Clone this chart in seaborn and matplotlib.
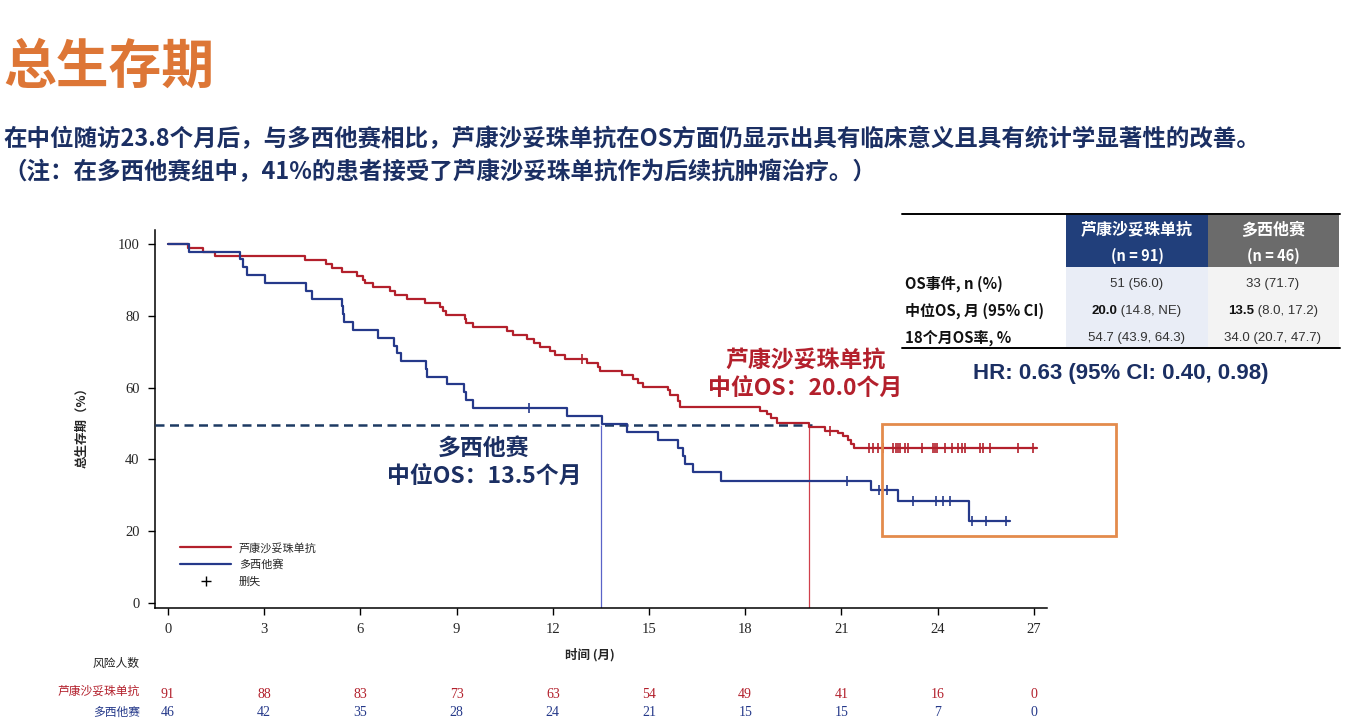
import numpy as np
import pandas as pd
import matplotlib
matplotlib.use('Agg')
import matplotlib.pyplot as plt
import seaborn as sns
from matplotlib.lines import Line2D
from matplotlib.patches import Rectangle
from matplotlib.transforms import blended_transform_factory

# Kaplan-Meier steps (months, % surviving)
red_time = [0, 0.63, 1.1, 1.47, 4.27, 4.92, 5.1, 5.42, 5.88, 6.09, 6.15, 6.4, 6.92, 7.08, 7.44,
            8.01, 8.48, 8.58, 8.67, 9.26, 9.3, 9.5, 10.57, 10.77, 11.2, 11.4, 11.6, 11.9, 12.07,
            12.38, 12.64, 13.06, 13.4, 13.47, 14.16, 14.5, 14.66, 14.8, 15.6, 15.65, 15.9, 15.96,
            18.46, 18.67, 18.8, 18.98, 20.0, 20.5, 20.9, 21.05, 21.2, 21.3, 21.4, 27.1]
red_surv = [100, 98.9, 97.8, 96.7, 95.6, 94.5, 93.4, 92.3, 91.2, 90.1, 89.0, 87.9, 86.8, 85.7, 84.6,
            83.5, 82.4, 81.3, 80.2, 79.1, 78.0, 76.9, 75.8, 74.7, 73.6, 72.5, 71.4, 70.3, 69.2,
            68.1, 67.9, 66.8, 65.7, 64.7, 63.6, 62.5, 61.4, 60.3, 59.2, 57.9, 56.3, 54.7,
            53.6, 52.6, 51.5, 50.2, 49.1, 48.0, 47.4, 46.5, 45.5, 44.4, 43.3, 43.3]
red_cens = [12.9, 20.63, 21.87, 21.99, 22.15, 22.29, 22.62, 22.70, 22.77, 22.83, 22.98, 23.08,
            23.50, 23.86, 23.92, 23.99, 24.23, 24.44, 24.64, 24.75, 24.85, 25.32, 25.42, 25.63,
            26.51, 26.98]

blue_time = [0, 0.64, 2.25, 2.35, 2.47, 3.02, 4.29, 4.48, 5.42, 5.45, 5.5, 5.78, 6.56, 7.05, 7.15,
             7.26, 8.03, 8.09, 8.71, 9.23, 9.29, 9.52, 12.43, 13.54, 14.3, 15.29, 15.91, 16.05,
             16.12, 16.38, 17.24, 21.91, 22.77, 24.99, 26.26]
blue_surv = [100, 97.8, 95.7, 93.5, 91.3, 89.1, 87.0, 84.8, 82.6, 80.4, 78.3, 76.1, 73.9, 71.7, 69.6,
             67.4, 65.2, 63.0, 60.9, 58.7, 56.5, 54.3, 52.0, 49.8, 47.6, 45.4, 43.1, 40.9,
             38.7, 36.4, 34.0, 31.6, 28.4, 22.8, 22.8]
blue_cens = [11.26, 21.16, 22.17, 22.43, 23.24, 23.95, 24.16, 24.38, 25.06, 25.5, 26.12]

median_red = 20.0
median_blue = 13.5
half_line = 49.6

risk_ticks = [0, 3, 6, 9, 12, 15, 18, 21, 24, 27]
risk_red = [91, 88, 83, 73, 63, 54, 49, 41, 16, 0]
risk_blue = [46, 42, 35, 28, 24, 21, 15, 15, 7, 0]

arm_red = '芦康沙妥珠单抗'
arm_blue = '多西他赛'

tbl_rows = ['OS事件, n (%)', '中位OS, 月 (95% CI)', '18个月OS率, %']
tbl_red = ['51 (56.0)', ('20.0', ' (14.8, NE)'), '54.7 (43.9, 64.3)']
tbl_blue = ['33 (71.7)', ('13.5', ' (8.0, 17.2)'), '34.0 (20.7, 47.7)']

RED = '#b3202c'
BLUE = '#25398a'
NAVY = '#1b2f63'
ORANGE = '#dd7636'

sns.set_style('ticks')
plt.rcParams['font.family'] = ['Noto Sans CJK SC', 'DejaVu Sans']
plt.rcParams['axes.unicode_minus'] = False

W, H = 1345, 724
fig = plt.figure(figsize=(W / 100, H / 100), dpi=100)


def fx(px):
    return px / W


def fy(py):
    return 1 - py / H


ax = fig.add_axes([fx(155), fy(608), (1047 - 155) / W, (608 - 230) / H])

df_red = pd.DataFrame({'time': red_time, 'surv': red_surv})
df_blue = pd.DataFrame({'time': blue_time, 'surv': blue_surv})


def surv_at(times, surv, t):
    i = np.searchsorted(times, t, side='right') - 1
    return np.asarray(surv)[i]


sns.lineplot(data=df_red, x='time', y='surv', drawstyle='steps-post', color=RED, lw=1.6,
             estimator=None, sort=False, ax=ax, zorder=4)
sns.lineplot(data=df_blue, x='time', y='surv', drawstyle='steps-post', color=BLUE, lw=1.6,
             estimator=None, sort=False, ax=ax, zorder=4)
sns.scatterplot(x=red_cens, y=surv_at(red_time, red_surv, red_cens), marker='|', s=60,
                color=RED, linewidth=1.2, ax=ax, zorder=5)
sns.scatterplot(x=blue_cens, y=surv_at(blue_time, blue_surv, blue_cens), marker='|', s=60,
                color=BLUE, linewidth=1.2, ax=ax, zorder=5)

ax.set_xlim(-0.405, 27.41)
ax.set_ylim(-1.4, 103.9)

# median guide lines
ax.hlines(half_line, -0.405, 20.08, color='#1d3a63', lw=1.8, linestyles=(0, (3.6, 2.2)), zorder=3)
ax.vlines(median_blue, -1.4, half_line, color='#5a63c8', lw=0.9, zorder=2)
ax.vlines(median_red, -1.4, half_line, color='#d0404c', lw=0.9, zorder=2)

ax.add_patch(Rectangle((22.26, 18.7), 7.3, 31.2, fill=False, ec='#e38b4c', lw=2,
                       clip_on=False, zorder=6))

ax.set_xticks(risk_ticks)
ax.set_yticks([0, 20, 40, 60, 80, 100])
ax.tick_params(axis='both', direction='out', length=5, width=1, labelsize=10.5, pad=6,
               color='black')
for lab in ax.get_xticklabels() + ax.get_yticklabels():
    lab.set_fontfamily('Liberation Serif')
for s in ['top', 'right']:
    ax.spines[s].set_visible(False)
for s in ['left', 'bottom']:
    ax.spines[s].set_linewidth(1.1)
    ax.spines[s].set_color('black')

ax.set_xlabel('时间 (月)', fontsize=9, fontweight='bold')
ax.set_ylabel('总生存期（%）', fontsize=9, fontweight='bold')
ax.xaxis.set_label_coords((590 - 155) / 892, (608 - 648) / 378)
ax.yaxis.set_label_coords((88 - 155) / 892, (608 - 425) / 378)

handles = [Line2D([], [], color=RED, lw=1.6), Line2D([], [], color=BLUE, lw=1.6),
           Line2D([], [], color='black', marker='+', ls='None', markersize=7, mew=1)]
ax.legend(handles, [arm_red, arm_blue, '删失'], loc='lower left', bbox_to_anchor=(0.023, 0.045),
          frameon=False, fontsize=8, handlelength=4.6, handletextpad=0.7, labelspacing=0.55,
          borderaxespad=0)

# number at risk
tr = blended_transform_factory(ax.transData, fig.transFigure)
fig.text(fx(140), fy(663), '风险人数', ha='right', va='center', fontsize=8.5, color='#222222')
fig.text(fx(140), fy(691), arm_red, ha='right', va='center', fontsize=8.5, color=RED)
fig.text(fx(140), fy(712), arm_blue, ha='right', va='center', fontsize=8.5, color=BLUE)
for t, r, b in zip(risk_ticks, risk_red, risk_blue):
    ax.text(t, fy(694), str(r), transform=tr, ha='center', va='center', fontsize=10,
            color=RED, family='Liberation Serif')
    ax.text(t, fy(712), str(b), transform=tr, ha='center', va='center', fontsize=10,
            color=BLUE, family='Liberation Serif')

# median annotations
fig.text(fx(805), fy(360), arm_red, ha='center', va='center', fontsize=16.5,
         fontweight='bold', color=RED)
fig.text(fx(805), fy(388), '中位OS：20.0个月', ha='center', va='center', fontsize=16.5,
         fontweight='bold', color=RED)
fig.text(fx(484), fy(448), arm_blue, ha='center', va='center', fontsize=16.5,
         fontweight='bold', color=NAVY)
fig.text(fx(484), fy(476), '中位OS：13.5个月', ha='center', va='center', fontsize=16.5,
         fontweight='bold', color=NAVY)

# title block
fig.text(fx(3), fy(67), '总生存期', ha='left', va='center', fontsize=38, fontweight='bold',
         color=ORANGE)
fig.text(fx(3), fy(139), '在中位随访23.8个月后，与多西他赛相比，芦康沙妥珠单抗在OS方面仍显示出具有临床意义且具有统计学显著性的改善。',
         ha='left', va='center', fontsize=16.9, fontweight='bold', color=NAVY)
fig.text(fx(3), fy(172), '（注：在多西他赛组中，41%的患者接受了芦康沙妥珠单抗作为后续抗肿瘤治疗。）',
         ha='left', va='center', fontsize=16.9, fontweight='bold', color=NAVY)


# summary table
def box(x0, y0, x1, y1, color):
    fig.add_artist(Rectangle((fx(x0), fy(y1)), (x1 - x0) / W, (y1 - y0) / H,
                             transform=fig.transFigure, color=color, lw=0, zorder=0))


box(1066, 215, 1208, 267, '#213f7b')
box(1208, 215, 1339, 267, '#6b6b6b')
box(1066, 267, 1208, 348, '#e9edf6')
box(1208, 267, 1339, 348, '#f3f3f3')
fig.add_artist(Line2D([fx(902), fx(1340)], [fy(213.5), fy(213.5)], color='black', lw=1.4,
                      transform=fig.transFigure))
fig.add_artist(Line2D([fx(902), fx(1340)], [fy(348.5), fy(348.5)], color='black', lw=1.4,
                      transform=fig.transFigure))

fig.text(fx(1137), fy(230), arm_red, ha='center', va='center', fontsize=11.5,
         fontweight='bold', color='white')
fig.text(fx(1137), fy(256), '(n = 91)', ha='center', va='center', fontsize=10.5,
         fontweight='bold', color='white')
fig.text(fx(1273), fy(230), arm_blue, ha='center', va='center', fontsize=11.5,
         fontweight='bold', color='white')
fig.text(fx(1273), fy(256), '(n = 46)', ha='center', va='center', fontsize=10.5,
         fontweight='bold', color='white')

row_y = [284, 311, 338]
for yy, lab, rv, bv in zip(row_y, tbl_rows, tbl_red, tbl_blue):
    fig.text(fx(905), fy(yy), lab, ha='left', va='center', fontsize=10.8, fontweight='bold',
             color='#111111')
    for xc, split, val in [(1137, 1117, rv), (1273, 1254, bv)]:
        if isinstance(val, tuple):
            fig.text(fx(split), fy(yy), val[0], ha='right', va='center', fontsize=9.5,
                     fontweight='bold', color='#111111', family='Liberation Sans')
            fig.text(fx(split), fy(yy), val[1], ha='left', va='center', fontsize=9.5,
                     color='#333333', family='Liberation Sans')
        else:
            fig.text(fx(xc), fy(yy), val, ha='center', va='center', fontsize=9.5,
                     color='#333333', family='Liberation Sans')

fig.text(fx(1121), fy(374), 'HR: 0.63 (95% CI: 0.40, 0.98)', ha='center', va='center',
         fontsize=16, fontweight='bold', color=NAVY, family='Liberation Sans')

fig.savefig('out.png', dpi=100)
